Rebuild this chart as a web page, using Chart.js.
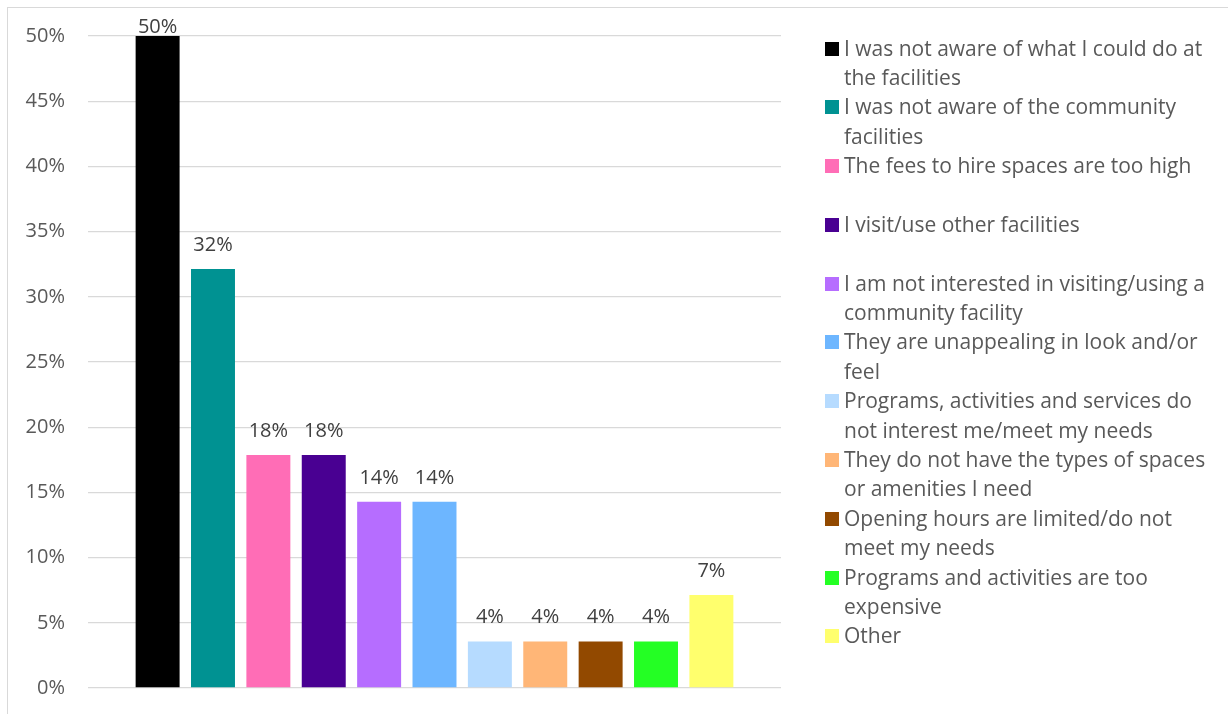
<!DOCTYPE html>
<html>
<head>
<meta charset="utf-8">
<script src="https://cdn.jsdelivr.net/npm/chart.js@4"></script>
<style>
  html, body { margin: 0; padding: 0; background: #ffffff; }
  body { width: 1228px; height: 714px; position: relative; overflow: hidden; font-family: "Open Sans", Lato, sans-serif; }
  #frame { position: absolute; left: 7px; top: 7px; width: 1400px; height: 900px;
           border-top: 1px solid #d9d9d9; border-left: 1px solid #d9d9d9; box-sizing: border-box; }
  #wrap { position: absolute; left: 0; top: 0; width: 1228px; height: 714px; }
  #legend { position: absolute; left: 825px; top: 33.5px; color: #595959; font-size: 21px; }
  .item { display: flex; align-items: flex-start; height: 58.8px; }
  .swatch { width: 14px; height: 14px; margin-top: 8px; margin-right: 5px; flex: none; }
  .text { line-height: 29.4px; white-space: nowrap; }
</style>
</head>
<body>
<div id="frame"></div>
<div id="wrap"><canvas id="chart"></canvas></div>
<div id="legend"></div>
<script>
// Reasons for not visiting / using community facilities (% of respondents)
const categories = [
  ['I was not aware of what I could do at', 'the facilities'],
  ['I was not aware of the community', 'facilities'],
  ['The fees to hire spaces are too high'],
  ['I visit/use other facilities'],
  ['I am not interested in visiting/using a', 'community facility'],
  ['They are unappealing in look and/or', 'feel'],
  ['Programs, activities and services do', 'not interest me/meet my needs'],
  ['They do not have the types of spaces', 'or amenities I need'],
  ['Opening hours are limited/do not', 'meet my needs'],
  ['Programs and activities are too', 'expensive'],
  ['Other']
];
const values = [50.0, 32.14, 17.86, 17.86, 14.29, 14.29, 3.57, 3.57, 3.57, 3.57, 7.14];
const colors = ['#000000', '#009292', '#ff6db6', '#490092', '#b66dff', '#6db6ff',
                '#b6dbff', '#ffb677', '#924900', '#24ff24', '#ffff6d'];
const yTicks = [0, 5, 10, 15, 20, 25, 30, 35, 40, 45, 50];

const FONT = '"Open Sans", Lato, sans-serif';

// value labels drawn above each bar
const barLabels = {
  id: 'barLabels',
  afterDatasetsDraw(chart) {
    const ctx = chart.ctx;
    ctx.save();
    ctx.font = '20px ' + FONT;
    ctx.fillStyle = '#404040';
    ctx.textAlign = 'center';
    ctx.textBaseline = 'alphabetic';
    chart.data.datasets.forEach((ds, i) => {
      const meta = chart.getDatasetMeta(i);
      meta.data.forEach((bar, j) => {
        const y = Math.max(bar.y - 18, chart.chartArea.top - 3);
        ctx.fillText(Math.round(ds.data[j]) + '%', bar.x, y);
      });
    });
    ctx.restore();
  }
};

new Chart(document.getElementById('chart'), {
  type: 'bar',
  data: {
    labels: [''],
    datasets: categories.map((c, i) => ({
      label: c.join(' '),
      data: [values[i]],
      backgroundColor: colors[i],
      borderWidth: 0,
      categoryPercentage: 0.879,
      barPercentage: 0.794
    }))
  },
  options: {
    responsive: true,
    maintainAspectRatio: false,
    animation: false,
    layout: { padding: { top: 36, bottom: 26, left: 0, right: 447 } },
    plugins: { legend: { display: false }, tooltip: { enabled: false } },
    scales: {
      x: { display: false },
      y: {
        min: 0, max: 50,
        afterBuildTicks(axis) { axis.ticks = yTicks.map(v => ({ value: v })); },
        afterFit(axis) {
          axis.width = 88;
          // keep the plot edges set by the layout padding alone
          axis.paddingTop = 0;
          axis.paddingBottom = 0;
        },
        border: { display: false },
        grid: { color: '#d9d9d9', lineWidth: 1.3, drawTicks: false },
        ticks: {
          padding: 23,
          color: '#595959',
          font: { family: FONT, size: 20 },
          callback: v => v + '%'
        }
      }
    }
  },
  plugins: [barLabels]
});

// legend with the category wording
const legend = document.getElementById('legend');
categories.forEach((c, i) => {
  const item = document.createElement('div');
  item.className = 'item';
  const sw = document.createElement('div');
  sw.className = 'swatch';
  sw.style.background = colors[i];
  const tx = document.createElement('div');
  tx.className = 'text';
  c.forEach(line => {
    const d = document.createElement('div');
    d.textContent = line;
    tx.appendChild(d);
  });
  item.appendChild(sw);
  item.appendChild(tx);
  legend.appendChild(item);
});
</script>
</body>
</html>
